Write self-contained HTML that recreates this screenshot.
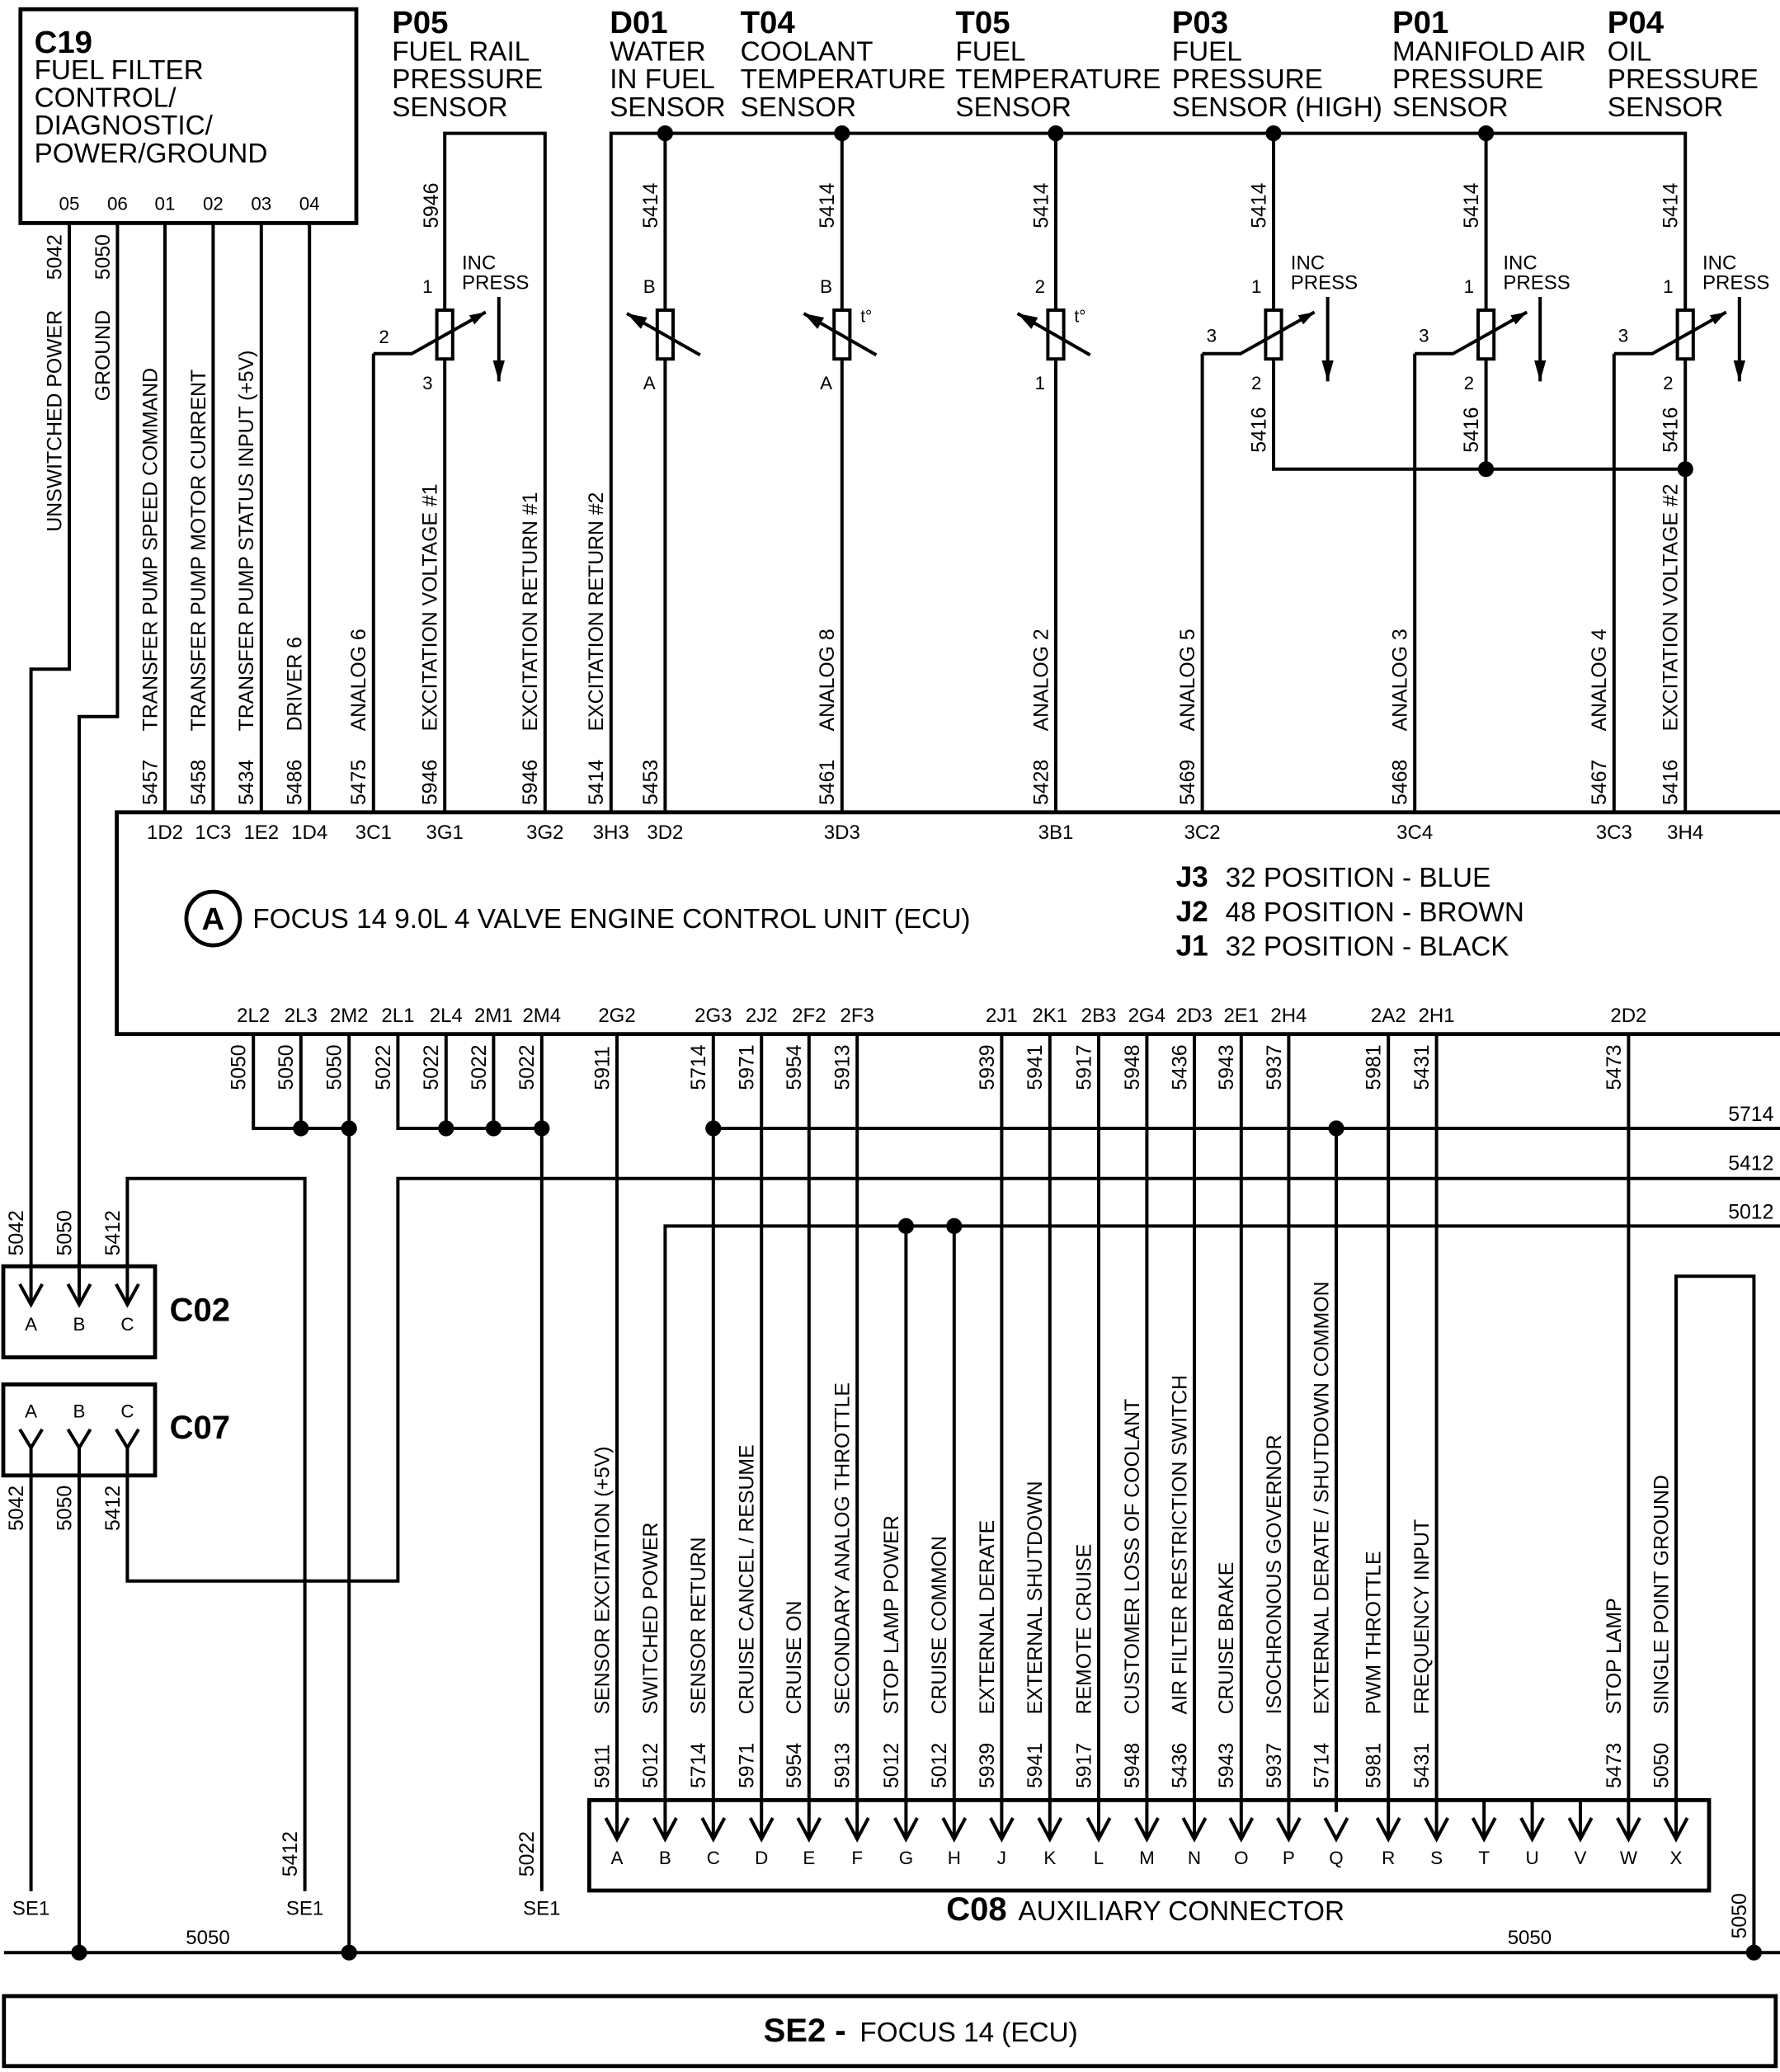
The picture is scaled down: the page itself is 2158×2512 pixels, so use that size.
<!DOCTYPE html>
<html><head><meta charset="utf-8"><style>
html,body{margin:0;padding:0;background:#fff;}
svg{display:block;}
text{font-family:"Liberation Sans",Arial,Helvetica,sans-serif;fill:#000;}
.w{stroke:#000;stroke-width:2.5;fill:none;}
.b{stroke:#000;stroke-width:3;fill:none;}
.r{font-size:15.5px;}
.h{font-size:20.8px;}
.hb{font-size:24px;font-weight:bold;}
.p{font-size:14px;text-anchor:middle;}
.e{font-size:15px;text-anchor:middle;}
.ip{font-size:15px;}
</style></head><body>
<svg width="2158" height="2512" viewBox="0 0 1348.75 1570" xmlns="http://www.w3.org/2000/svg">
<defs>
<marker id="ah" viewBox="0 0 12 8" refX="12" refY="4" markerUnits="userSpaceOnUse" markerWidth="13" markerHeight="8" orient="auto"><path d="M0,0 L12,4 L0,8 z" fill="#000"/></marker>
<marker id="ad" viewBox="0 0 16 9" refX="16" refY="4.5" markerUnits="userSpaceOnUse" markerWidth="16" markerHeight="9" orient="auto"><path d="M0,0 L16,4.5 L0,9 z" fill="#000"/></marker>
<marker id="at" viewBox="0 0 15 10" refX="15" refY="5" markerUnits="userSpaceOnUse" markerWidth="15" markerHeight="10" orient="auto"><path d="M0,0 L15,5 L0,10 z" fill="#000"/></marker>
</defs>
<rect x="0" y="0" width="1348.75" height="1570" fill="#fff"/>

<!-- C19 -->
<rect x="15.5" y="7" width="254.5" height="162" class="b"/>
<text x="26" y="40" class="hb">C19</text>
<text x="26" y="60" class="h">FUEL FILTER</text>
<text x="26" y="81" class="h">CONTROL/</text>
<text x="26" y="102" class="h">DIAGNOSTIC/</text>
<text x="26" y="123" class="h">POWER/GROUND</text>
<text x="52.5" y="159" class="p">05</text>
<text x="89" y="159" class="p">06</text>
<text x="125" y="159" class="p">01</text>
<text x="161.5" y="159" class="p">02</text>
<text x="198" y="159" class="p">03</text>
<text x="234.5" y="159" class="p">04</text>

<path class="w" d="M52.5,169 V507 H23.5 V988.5"/>
<path class="w" d="M89,169 V543 H60 V988.5"/>
<path class="w" d="M125,169 V615.5"/>
<path class="w" d="M161.5,169 V615.5"/>
<path class="w" d="M198,169 V615.5"/>
<path class="w" d="M234.5,169 V615.5"/>
<text class="r" transform="translate(46.5,212) rotate(-90)">5042</text>
<text class="r" text-anchor="end" transform="translate(46.5,235) rotate(-90)">UNSWITCHED POWER</text>
<text class="r" transform="translate(83,212) rotate(-90)">5050</text>
<text class="r" text-anchor="end" transform="translate(83,235) rotate(-90)">GROUND</text>

<!-- Sensor headings -->
<text x="297" y="25" class="hb">P05</text>
<text x="297" y="46" class="h">FUEL RAIL</text>
<text x="297" y="67" class="h">PRESSURE</text>
<text x="297" y="88" class="h">SENSOR</text>
<text x="462" y="25" class="hb">D01</text>
<text x="462" y="46" class="h">WATER</text>
<text x="462" y="67" class="h">IN FUEL</text>
<text x="462" y="88" class="h">SENSOR</text>
<text x="561" y="25" class="hb">T04</text>
<text x="561" y="46" class="h">COOLANT</text>
<text x="561" y="67" class="h">TEMPERATURE</text>
<text x="561" y="88" class="h">SENSOR</text>
<text x="724" y="25" class="hb">T05</text>
<text x="724" y="46" class="h">FUEL</text>
<text x="724" y="67" class="h">TEMPERATURE</text>
<text x="724" y="88" class="h">SENSOR</text>
<text x="888" y="25" class="hb">P03</text>
<text x="888" y="46" class="h">FUEL</text>
<text x="888" y="67" class="h">PRESSURE</text>
<text x="888" y="88" class="h">SENSOR (HIGH)</text>
<text x="1055" y="25" class="hb">P01</text>
<text x="1055" y="46" class="h">MANIFOLD AIR</text>
<text x="1055" y="67" class="h">PRESSURE</text>
<text x="1055" y="88" class="h">SENSOR</text>
<text x="1218" y="25" class="hb">P04</text>
<text x="1218" y="46" class="h">OIL</text>
<text x="1218" y="67" class="h">PRESSURE</text>
<text x="1218" y="88" class="h">SENSOR</text>

<!-- Sensor wiring -->
<path class="w" d="M337,615.5 V101 H413 V615.5"/>
<path class="w" d="M463,615.5 V101 H1277 V615.5"/>
<path class="w" d="M504,101 V615.5"/>
<path class="w" d="M638,101 V615.5"/>
<path class="w" d="M800,101 V615.5"/>
<path class="w" d="M965,101 V355.5 H1277"/>
<path class="w" d="M1126,101 V355.5"/>
<path class="w" d="M1072,615.5 V268"/>
<path class="w" d="M911,615.5 V268"/>
<path class="w" d="M1223,615.5 V268"/>
<path class="w" d="M283,615.5 V268"/>

<!-- resistors -->
<rect x="331" y="235" width="12" height="37" fill="#fff" stroke="#000" stroke-width="2.5"/>
<rect x="498" y="235" width="12" height="37" fill="#fff" stroke="#000" stroke-width="2.5"/>
<rect x="632" y="235" width="12" height="37" fill="#fff" stroke="#000" stroke-width="2.5"/>
<rect x="794" y="235" width="12" height="37" fill="#fff" stroke="#000" stroke-width="2.5"/>
<rect x="959" y="235" width="12" height="37" fill="#fff" stroke="#000" stroke-width="2.5"/>
<rect x="1120" y="235" width="12" height="37" fill="#fff" stroke="#000" stroke-width="2.5"/>
<rect x="1271" y="235" width="12" height="37" fill="#fff" stroke="#000" stroke-width="2.5"/>

<!-- wipers -->
<path class="w" d="M283,268 H312 L368,236.5" marker-end="url(#ah)"/>
<path class="w" d="M911,268 H940 L996,236.5" marker-end="url(#ah)"/>
<path class="w" d="M1072,268 H1101 L1157,236.5" marker-end="url(#ah)"/>
<path class="w" d="M1223,268 H1252 L1308,236.5" marker-end="url(#ah)"/>
<!-- pressure arrows -->
<path class="w" d="M378,225 V289" marker-end="url(#ad)"/>
<path class="w" d="M1006,225 V289" marker-end="url(#ad)"/>
<path class="w" d="M1167,225 V289" marker-end="url(#ad)"/>
<path class="w" d="M1318,225 V289" marker-end="url(#ad)"/>
<!-- thermistor arrows -->
<path class="w" d="M530.5,269 L475,237.5" marker-end="url(#at)"/>
<path class="w" d="M664,269 L609,237.5" marker-end="url(#at)"/>
<path class="w" d="M826,269 L771,237.5" marker-end="url(#at)"/>

<!-- dots top -->
<g fill="#000">
<circle cx="504" cy="101" r="6"/><circle cx="638" cy="101" r="6"/><circle cx="800" cy="101" r="6"/>
<circle cx="965" cy="101" r="6"/><circle cx="1126" cy="101" r="6"/>
<circle cx="1126" cy="355.5" r="6"/><circle cx="1277" cy="355.5" r="6"/>
</g>

<!-- pin labels sensors -->
<text x="324" y="222" class="p">1</text><text x="324" y="295" class="p">3</text><text x="291" y="260" class="p">2</text>
<text x="952" y="222" class="p">1</text><text x="952" y="295" class="p">2</text><text x="918" y="259" class="p">3</text>
<text x="1113" y="222" class="p">1</text><text x="1113" y="295" class="p">2</text><text x="1079" y="259" class="p">3</text>
<text x="1264" y="222" class="p">1</text><text x="1264" y="295" class="p">2</text><text x="1230" y="259" class="p">3</text>
<text x="492" y="222" class="p">B</text><text x="492" y="295" class="p">A</text>
<text x="626" y="222" class="p">B</text><text x="626" y="295" class="p">A</text>
<text x="788" y="222" class="p">2</text><text x="788" y="295" class="p">1</text>
<text x="652" y="244" font-size="13">t°</text>
<text x="814" y="244" font-size="13">t°</text>
<text x="350" y="204" class="ip">INC</text><text x="350" y="219" class="ip">PRESS</text>
<text x="978" y="204" class="ip">INC</text><text x="978" y="219" class="ip">PRESS</text>
<text x="1139" y="204" class="ip">INC</text><text x="1139" y="219" class="ip">PRESS</text>
<text x="1290" y="204" class="ip">INC</text><text x="1290" y="219" class="ip">PRESS</text>

<!-- sensor wire numbers -->
<text class="r" transform="translate(332,173) rotate(-90)">5946</text>
<text class="r" transform="translate(498,173) rotate(-90)">5414</text>
<text class="r" transform="translate(632,173) rotate(-90)">5414</text>
<text class="r" transform="translate(794,173) rotate(-90)">5414</text>
<text class="r" transform="translate(959,173) rotate(-90)">5414</text>
<text class="r" transform="translate(1120,173) rotate(-90)">5414</text>
<text class="r" transform="translate(1271,173) rotate(-90)">5414</text>
<text class="r" transform="translate(959,343) rotate(-90)">5416</text>
<text class="r" transform="translate(1120,343) rotate(-90)">5416</text>
<text class="r" transform="translate(1271,343) rotate(-90)">5416</text>

<!-- ECU top wire labels -->
<text class="r" transform="translate(119,610) rotate(-90)">5457</text>
<text class="r" transform="translate(155.5,610) rotate(-90)">5458</text>
<text class="r" transform="translate(192,610) rotate(-90)">5434</text>
<text class="r" transform="translate(228.5,610) rotate(-90)">5486</text>
<text class="r" transform="translate(277,610) rotate(-90)">5475</text>
<text class="r" transform="translate(331,610) rotate(-90)">5946</text>
<text class="r" transform="translate(407,610) rotate(-90)">5946</text>
<text class="r" transform="translate(457,610) rotate(-90)">5414</text>
<text class="r" transform="translate(498,610) rotate(-90)">5453</text>
<text class="r" transform="translate(632,610) rotate(-90)">5461</text>
<text class="r" transform="translate(794,610) rotate(-90)">5428</text>
<text class="r" transform="translate(905,610) rotate(-90)">5469</text>
<text class="r" transform="translate(1066,610) rotate(-90)">5468</text>
<text class="r" transform="translate(1217,610) rotate(-90)">5467</text>
<text class="r" transform="translate(1271,610) rotate(-90)">5416</text>
<text class="r" transform="translate(119,554) rotate(-90)">TRANSFER PUMP SPEED COMMAND</text>
<text class="r" transform="translate(155.5,554) rotate(-90)">TRANSFER PUMP MOTOR CURRENT</text>
<text class="r" transform="translate(192,554) rotate(-90)">TRANSFER PUMP STATUS INPUT (+5V)</text>
<text class="r" transform="translate(228.5,554) rotate(-90)">DRIVER 6</text>
<text class="r" transform="translate(277,554) rotate(-90)">ANALOG 6</text>
<text class="r" transform="translate(331,554) rotate(-90)">EXCITATION VOLTAGE #1</text>
<text class="r" transform="translate(407,554) rotate(-90)">EXCITATION RETURN #1</text>
<text class="r" transform="translate(457,554) rotate(-90)">EXCITATION RETURN #2</text>
<text class="r" transform="translate(632,554) rotate(-90)">ANALOG 8</text>
<text class="r" transform="translate(794,554) rotate(-90)">ANALOG 2</text>
<text class="r" transform="translate(905,554) rotate(-90)">ANALOG 5</text>
<text class="r" transform="translate(1066,554) rotate(-90)">ANALOG 3</text>
<text class="r" transform="translate(1217,554) rotate(-90)">ANALOG 4</text>
<text class="r" transform="translate(1271,554) rotate(-90)">EXCITATION VOLTAGE #2</text>

<!-- ECU -->
<path class="b" d="M1348.75,615.5 H88.5 V783.5 H1348.75"/>
<text y="635.5" class="e"><tspan x="125">1D2</tspan><tspan x="161.5">1C3</tspan><tspan x="198">1E2</tspan><tspan x="234.5">1D4</tspan><tspan x="283">3C1</tspan><tspan x="337">3G1</tspan><tspan x="413">3G2</tspan><tspan x="463">3H3</tspan><tspan x="504">3D2</tspan><tspan x="638">3D3</tspan><tspan x="800">3B1</tspan><tspan x="911">3C2</tspan><tspan x="1072">3C4</tspan><tspan x="1223">3C3</tspan><tspan x="1277">3H4</tspan></text>
<circle cx="161.5" cy="696" r="20.3" fill="none" stroke="#000" stroke-width="3"/>
<text x="161.5" y="704.5" text-anchor="middle" font-size="24" font-weight="bold">A</text>
<text x="191.5" y="703" font-size="20.8">FOCUS 14 9.0L 4 VALVE ENGINE CONTROL UNIT (ECU)</text>
<text x="891" y="672" font-size="22" font-weight="bold">J3</text><text x="928.5" y="672" class="h">32 POSITION - BLUE</text>
<text x="891" y="698" font-size="22" font-weight="bold">J2</text><text x="928.5" y="698" class="h">48 POSITION - BROWN</text>
<text x="891" y="724" font-size="22" font-weight="bold">J1</text><text x="928.5" y="724" class="h">32 POSITION - BLACK</text>
<text y="774.5" class="e"><tspan x="192">2L2</tspan><tspan x="228">2L3</tspan><tspan x="264.5">2M2</tspan><tspan x="301.5">2L1</tspan><tspan x="338">2L4</tspan><tspan x="374">2M1</tspan><tspan x="410.5">2M4</tspan><tspan x="467.5">2G2</tspan><tspan x="540.5">2G3</tspan><tspan x="577">2J2</tspan><tspan x="613">2F2</tspan><tspan x="649.5">2F3</tspan><tspan x="759">2J1</tspan><tspan x="795.5">2K1</tspan><tspan x="832.5">2B3</tspan><tspan x="869">2G4</tspan><tspan x="905">2D3</tspan><tspan x="940.5">2E1</tspan><tspan x="976.5">2H4</tspan><tspan x="1052">2A2</tspan><tspan x="1088.5">2H1</tspan><tspan x="1234">2D2</tspan></text>

<!-- lower wiring -->
<path class="w" d="M192,783.5 V855 H264.5"/>
<path class="w" d="M228,783.5 V855"/>
<path class="w" d="M264.5,783.5 V1479.5"/>
<path class="w" d="M301.5,783.5 V855 H410.5"/>
<path class="w" d="M338,783.5 V855"/>
<path class="w" d="M374,783.5 V855"/>
<path class="w" d="M410.5,783.5 V1433"/>
<path class="w" d="M96.5,988.5 V893 H231 V1433"/>
<path class="w" d="M96.5,1097 V1198 H301.5 V893 H1348.75"/>
<path class="w" d="M23.5,1097 V1433"/>
<path class="w" d="M60,1097 V1479.5"/>
<path class="w" d="M3,1479.5 H1348.75"/>
<path class="w" d="M540.5,855 H1348.75"/>
<path class="w" d="M504,1393.5 V929 H1348.75"/>
<path class="w" d="M467.5,783.5 V1393.5 M540.5,783.5 V1393.5 M577,783.5 V1393.5 M613,783.5 V1393.5 M649.5,783.5 V1393.5 M759,783.5 V1393.5 M795.5,783.5 V1393.5 M832.5,783.5 V1393.5 M869,783.5 V1393.5 M905,783.5 V1393.5 M940.5,783.5 V1393.5 M976.5,783.5 V1393.5 M1052,783.5 V1393.5 M1088.5,783.5 V1393.5 M1234,783.5 V1393.5"/>
<path class="w" d="M686.5,929 V1393.5 M723,929 V1393.5"/>
<path class="w" d="M1012.5,855 V1373"/>
<path class="w" d="M1124.5,1364 V1393.5 M1161,1364 V1393.5 M1197.5,1364 V1393.5"/>
<path class="w" d="M1270,1393.5 V967 H1329 V1479.5"/>
<g fill="#000">
<circle cx="228" cy="855" r="6"/><circle cx="264.5" cy="855" r="6"/>
<circle cx="338" cy="855" r="6"/><circle cx="374" cy="855" r="6"/><circle cx="410.5" cy="855" r="6"/>
<circle cx="540.5" cy="855" r="6"/><circle cx="1012.5" cy="855" r="6"/>
<circle cx="686.5" cy="929" r="6"/><circle cx="723" cy="929" r="6"/>
<circle cx="60" cy="1479.5" r="6"/><circle cx="264.5" cy="1479.5" r="6"/><circle cx="1329" cy="1479.5" r="6"/>
</g>
<text x="1344" y="849.5" class="r" text-anchor="end">5714</text>
<text x="1344" y="886.5" class="r" text-anchor="end">5412</text>
<text x="1344" y="923.5" class="r" text-anchor="end">5012</text>

<!-- under-ECU labels -->
<text class="r" transform="translate(186,826) rotate(-90)">5050</text>
<text class="r" transform="translate(222,826) rotate(-90)">5050</text>
<text class="r" transform="translate(258.5,826) rotate(-90)">5050</text>
<text class="r" transform="translate(295.5,826) rotate(-90)">5022</text>
<text class="r" transform="translate(332,826) rotate(-90)">5022</text>
<text class="r" transform="translate(368,826) rotate(-90)">5022</text>
<text class="r" transform="translate(404.5,826) rotate(-90)">5022</text>
<text class="r" transform="translate(461.5,826) rotate(-90)">5911</text>
<text class="r" transform="translate(534.5,826) rotate(-90)">5714</text>
<text class="r" transform="translate(571,826) rotate(-90)">5971</text>
<text class="r" transform="translate(607,826) rotate(-90)">5954</text>
<text class="r" transform="translate(643.5,826) rotate(-90)">5913</text>
<text class="r" transform="translate(753,826) rotate(-90)">5939</text>
<text class="r" transform="translate(789.5,826) rotate(-90)">5941</text>
<text class="r" transform="translate(826.5,826) rotate(-90)">5917</text>
<text class="r" transform="translate(863,826) rotate(-90)">5948</text>
<text class="r" transform="translate(899,826) rotate(-90)">5436</text>
<text class="r" transform="translate(934.5,826) rotate(-90)">5943</text>
<text class="r" transform="translate(970.5,826) rotate(-90)">5937</text>
<text class="r" transform="translate(1046,826) rotate(-90)">5981</text>
<text class="r" transform="translate(1082.5,826) rotate(-90)">5431</text>
<text class="r" transform="translate(1228,826) rotate(-90)">5473</text>

<!-- C02 / C07 -->
<rect x="2.5" y="959.5" width="115" height="69" class="b"/>
<rect x="2.5" y="1049" width="115" height="69" class="b"/>
<path class="w" d="M15,973 L23.5,988.5 L32,973 M51.5,973 L60,988.5 L68.5,973 M88,973 L96.5,988.5 L105,973"/>
<path class="w" d="M15,1083 L23.5,1097 L32,1083 M51.5,1083 L60,1097 L68.5,1083 M88,1083 L96.5,1097 L105,1083"/>
<text y="1008" class="p"><tspan x="23.5">A</tspan><tspan x="60">B</tspan><tspan x="96.5">C</tspan></text>
<text y="1074" class="p"><tspan x="23.5">A</tspan><tspan x="60">B</tspan><tspan x="96.5">C</tspan></text>
<text x="128.5" y="1001" font-size="25" font-weight="bold">C02</text>
<text x="128.5" y="1090" font-size="25" font-weight="bold">C07</text>
<text class="r" transform="translate(17.5,951.5) rotate(-90)">5042</text>
<text class="r" transform="translate(54,951.5) rotate(-90)">5050</text>
<text class="r" transform="translate(90.5,951.5) rotate(-90)">5412</text>
<text class="r" transform="translate(17.5,1160) rotate(-90)">5042</text>
<text class="r" transform="translate(54,1160) rotate(-90)">5050</text>
<text class="r" transform="translate(90.5,1160) rotate(-90)">5412</text>

<!-- SE1 -->
<text class="r" transform="translate(225,1422) rotate(-90)">5412</text>
<text class="r" transform="translate(404.5,1422) rotate(-90)">5022</text>
<text y="1451" class="e"><tspan x="23.5">SE1</tspan><tspan x="231">SE1</tspan><tspan x="410.5">SE1</tspan></text>
<text x="157.5" y="1473" class="e">5050</text>
<text x="1159" y="1473" class="e">5050</text>
<text class="r" transform="translate(1323,1469) rotate(-90)">5050</text>

<!-- above C08 labels -->
<g class="r">
<text transform="translate(461.5,1355) rotate(-90)">5911</text>
<text transform="translate(498,1355) rotate(-90)">5012</text>
<text transform="translate(534.5,1355) rotate(-90)">5714</text>
<text transform="translate(571,1355) rotate(-90)">5971</text>
<text transform="translate(607,1355) rotate(-90)">5954</text>
<text transform="translate(643.5,1355) rotate(-90)">5913</text>
<text transform="translate(680.5,1355) rotate(-90)">5012</text>
<text transform="translate(717,1355) rotate(-90)">5012</text>
<text transform="translate(753,1355) rotate(-90)">5939</text>
<text transform="translate(789.5,1355) rotate(-90)">5941</text>
<text transform="translate(826.5,1355) rotate(-90)">5917</text>
<text transform="translate(863,1355) rotate(-90)">5948</text>
<text transform="translate(899,1355) rotate(-90)">5436</text>
<text transform="translate(934.5,1355) rotate(-90)">5943</text>
<text transform="translate(970.5,1355) rotate(-90)">5937</text>
<text transform="translate(1006.5,1355) rotate(-90)">5714</text>
<text transform="translate(1046,1355) rotate(-90)">5981</text>
<text transform="translate(1082.5,1355) rotate(-90)">5431</text>
<text transform="translate(1228,1355) rotate(-90)">5473</text>
<text transform="translate(1264,1355) rotate(-90)">5050</text>
<text transform="translate(461.5,1299) rotate(-90)">SENSOR EXCITATION (+5V)</text>
<text transform="translate(498,1299) rotate(-90)">SWITCHED POWER</text>
<text transform="translate(534.5,1299) rotate(-90)">SENSOR RETURN</text>
<text transform="translate(571,1299) rotate(-90)">CRUISE CANCEL / RESUME</text>
<text transform="translate(607,1299) rotate(-90)">CRUISE ON</text>
<text transform="translate(643.5,1299) rotate(-90)">SECONDARY ANALOG THROTTLE</text>
<text transform="translate(680.5,1299) rotate(-90)">STOP LAMP POWER</text>
<text transform="translate(717,1299) rotate(-90)">CRUISE COMMON</text>
<text transform="translate(753,1299) rotate(-90)">EXTERNAL DERATE</text>
<text transform="translate(789.5,1299) rotate(-90)">EXTERNAL SHUTDOWN</text>
<text transform="translate(826.5,1299) rotate(-90)">REMOTE CRUISE</text>
<text transform="translate(863,1299) rotate(-90)">CUSTOMER LOSS OF COOLANT</text>
<text transform="translate(899,1299) rotate(-90)">AIR FILTER RESTRICTION SWITCH</text>
<text transform="translate(934.5,1299) rotate(-90)">CRUISE BRAKE</text>
<text transform="translate(970.5,1299) rotate(-90)">ISOCHRONOUS GOVERNOR</text>
<text transform="translate(1006.5,1299) rotate(-90)">EXTERNAL DERATE / SHUTDOWN COMMON</text>
<text transform="translate(1046,1299) rotate(-90)">PWM THROTTLE</text>
<text transform="translate(1082.5,1299) rotate(-90)">FREQUENCY INPUT</text>
<text transform="translate(1228,1299) rotate(-90)">STOP LAMP</text>
<text transform="translate(1264,1299) rotate(-90)">SINGLE POINT GROUND</text>
</g>

<!-- C08 -->
<rect x="446.5" y="1364" width="848.5" height="68.5" class="b"/>
<path class="w" d="M459,1377.5 L467.5,1393.5 L476,1377.5 M495.5,1377.5 L504,1393.5 L512.5,1377.5 M532,1377.5 L540.5,1393.5 L549,1377.5 M568.5,1377.5 L577,1393.5 L585.5,1377.5 M604.5,1377.5 L613,1393.5 L621.5,1377.5 M641,1377.5 L649.5,1393.5 L658,1377.5 M678,1377.5 L686.5,1393.5 L695,1377.5 M714.5,1377.5 L723,1393.5 L731.5,1377.5 M750.5,1377.5 L759,1393.5 L767.5,1377.5 M787,1377.5 L795.5,1393.5 L804,1377.5 M824,1377.5 L832.5,1393.5 L841,1377.5 M860.5,1377.5 L869,1393.5 L877.5,1377.5 M896.5,1377.5 L905,1393.5 L913.5,1377.5 M932,1377.5 L940.5,1393.5 L949,1377.5 M968,1377.5 L976.5,1393.5 L985,1377.5 M1004,1377.5 L1012.5,1393.5 L1021,1377.5 M1043.5,1377.5 L1052,1393.5 L1060.5,1377.5 M1080,1377.5 L1088.5,1393.5 L1097,1377.5 M1116,1377.5 L1124.5,1393.5 L1133,1377.5 M1152.5,1377.5 L1161,1393.5 L1169.5,1377.5 M1189,1377.5 L1197.5,1393.5 L1206,1377.5 M1225.5,1377.5 L1234,1393.5 L1242.5,1377.5 M1261.5,1377.5 L1270,1393.5 L1278.5,1377.5"/>
<text y="1412.5" class="p"><tspan x="467.5">A</tspan><tspan x="504">B</tspan><tspan x="540.5">C</tspan><tspan x="577">D</tspan><tspan x="613">E</tspan><tspan x="649.5">F</tspan><tspan x="686.5">G</tspan><tspan x="723">H</tspan><tspan x="759">J</tspan><tspan x="795.5">K</tspan><tspan x="832.5">L</tspan><tspan x="869">M</tspan><tspan x="905">N</tspan><tspan x="940.5">O</tspan><tspan x="976.5">P</tspan><tspan x="1012.5">Q</tspan><tspan x="1052">R</tspan><tspan x="1088.5">S</tspan><tspan x="1124.5">T</tspan><tspan x="1161">U</tspan><tspan x="1197.5">V</tspan><tspan x="1234">W</tspan><tspan x="1270">X</tspan></text>
<text x="717" y="1455" font-size="25" font-weight="bold">C08</text>
<text x="771.5" y="1455" class="h">AUXILIARY CONNECTOR</text>

<!-- SE2 -->
<rect x="3" y="1512.5" width="1342.5" height="53" class="b"/>
<text x="578.5" y="1547" font-size="25" font-weight="bold">SE2 -</text>
<text x="651.5" y="1547" class="h">FOCUS 14 (ECU)</text>
</svg>
</body></html>
